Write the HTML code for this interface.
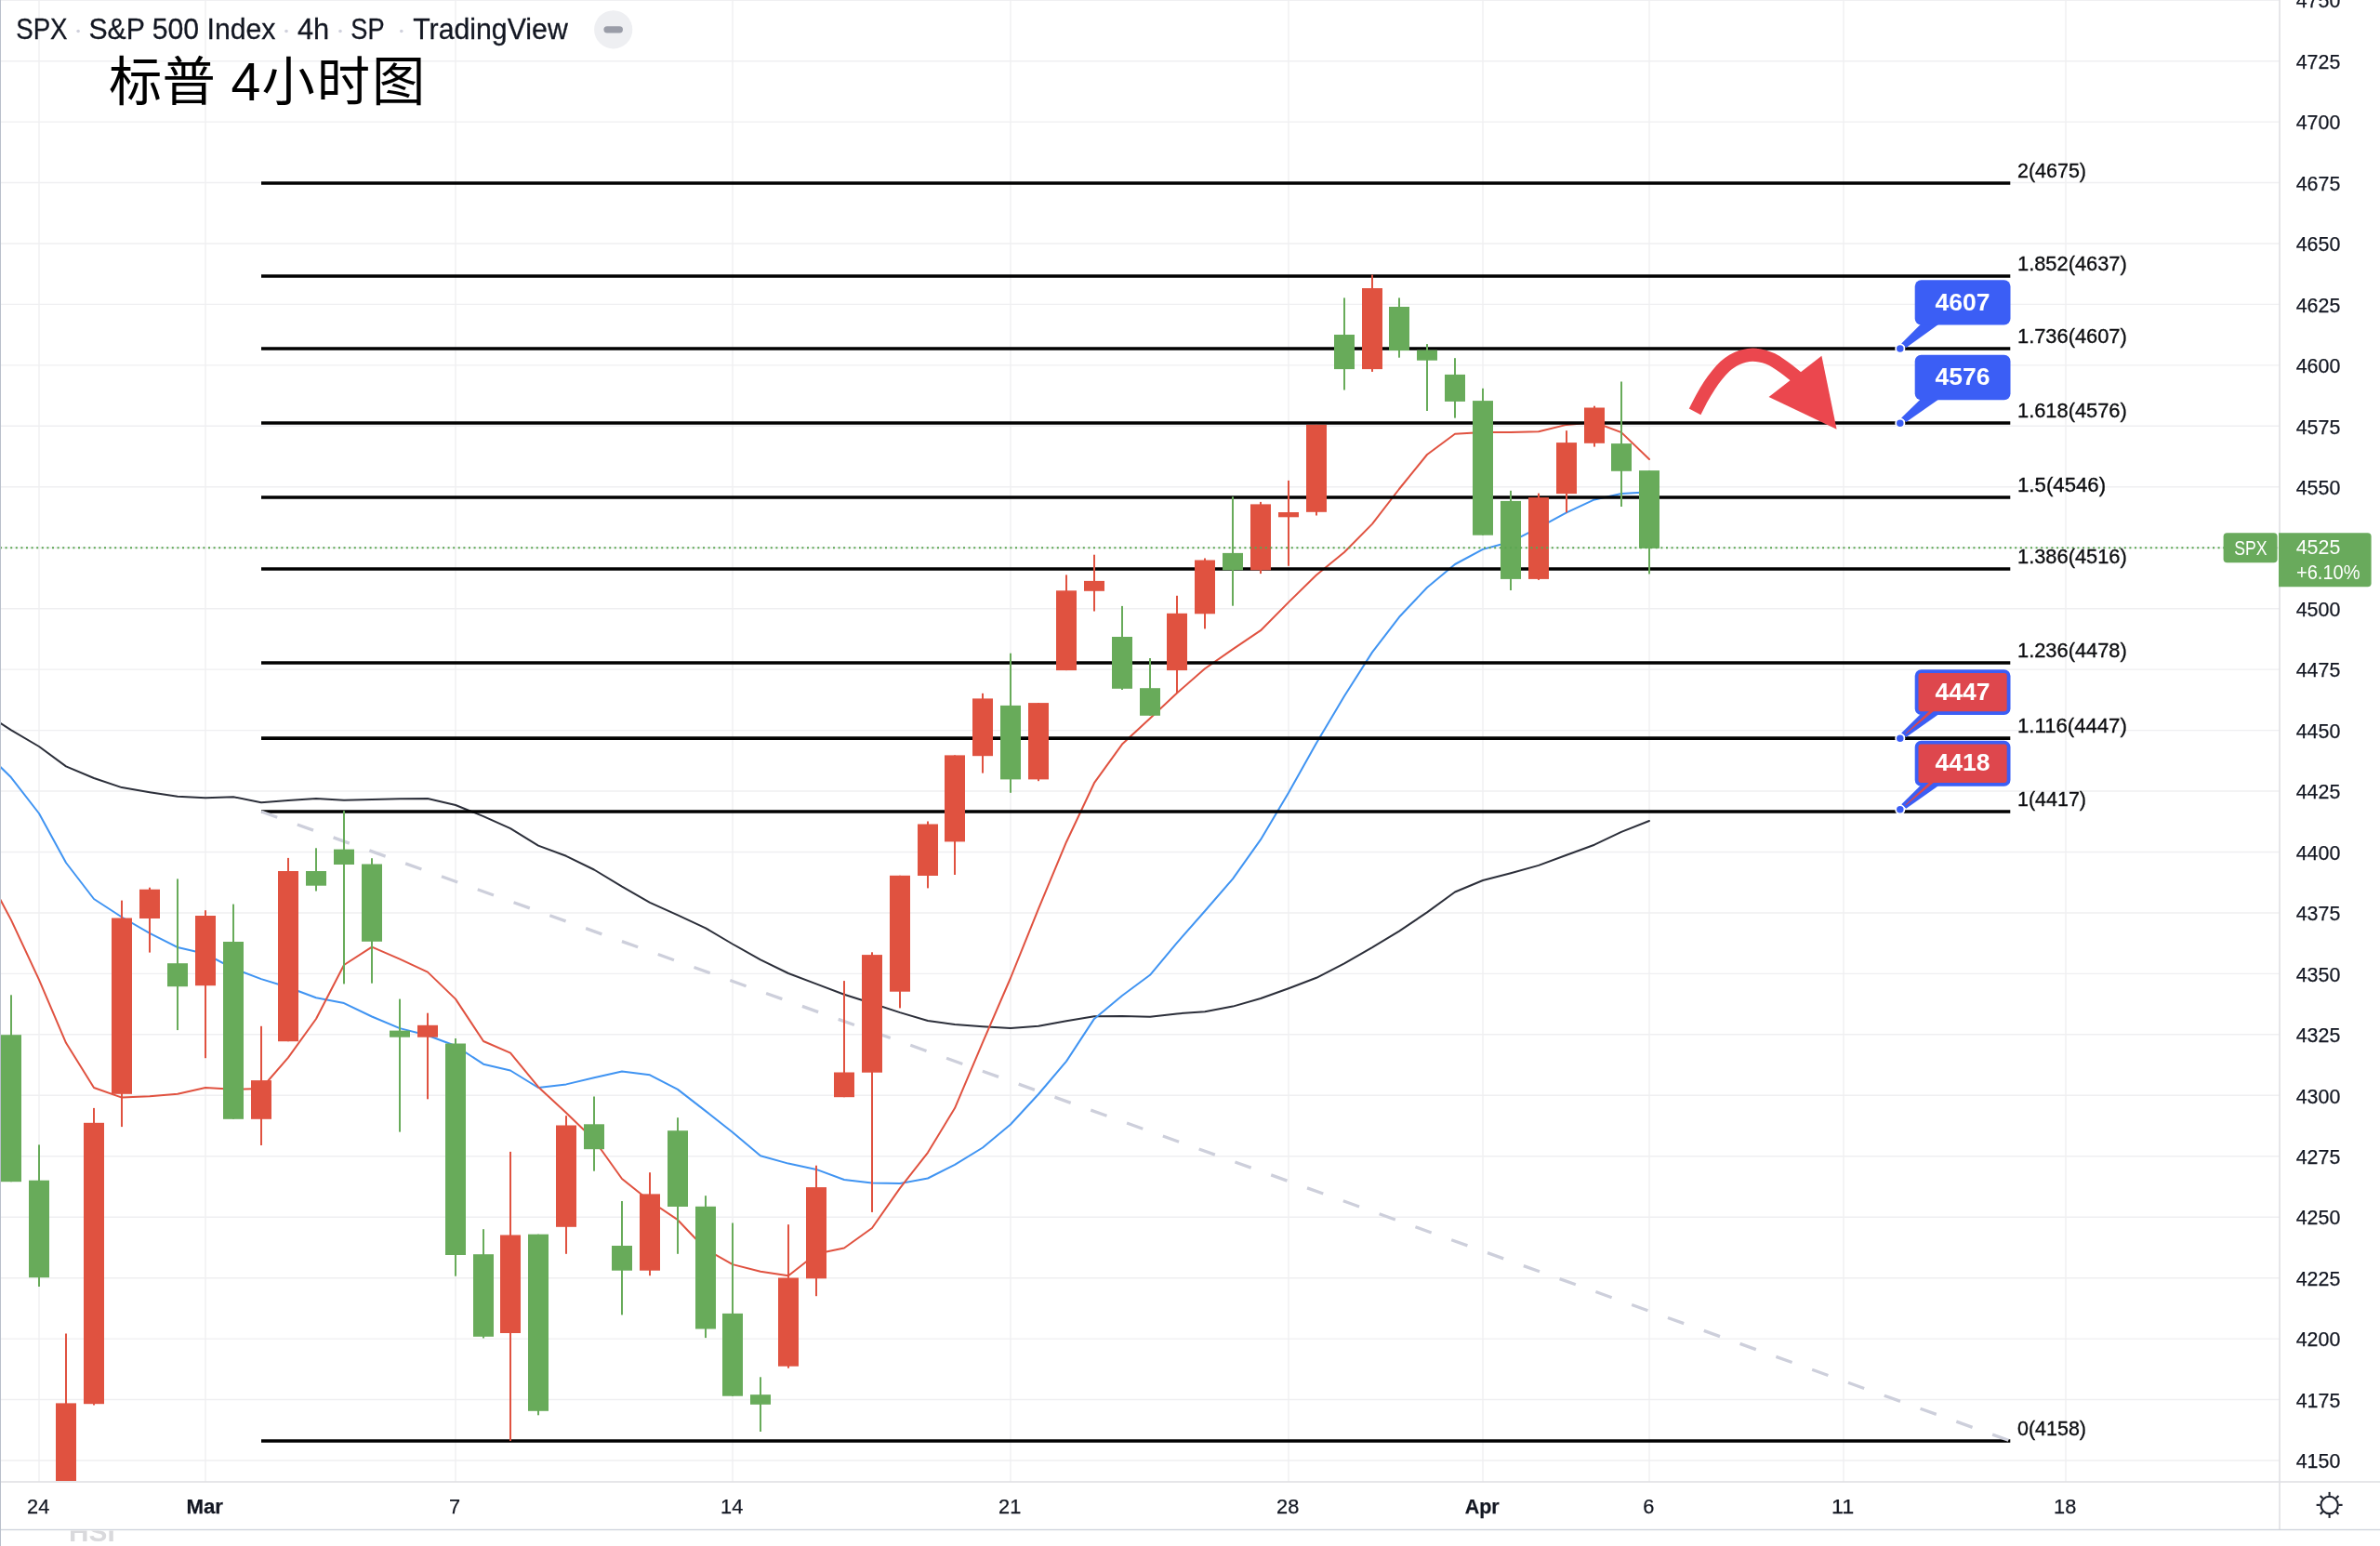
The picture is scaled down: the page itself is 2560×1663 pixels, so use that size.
<!DOCTYPE html>
<html lang="zh"><head><meta charset="utf-8"><title>SPX 4h</title>
<style>html,body{margin:0;padding:0;background:#fff;}body{width:2560px;height:1663px;overflow:hidden;}svg{display:block;will-change:transform;opacity:0.9999;font-family:"Liberation Sans","Noto Sans CJK SC",sans-serif;}.ax{font-size:22.9px;fill:#131722;stroke:#131722;stroke-width:0.25px;}.fb{font-size:22.7px;fill:#0c0d10;stroke:#0c0d10;stroke-width:0.35px;}.b{font-weight:bold;}</style></head><body>
<svg width="2560" height="1663" viewBox="0 0 2560 1663">
<rect width="2560" height="1663" fill="#fff"/>
<g stroke="#efeff1" stroke-width="1.4">
<line x1="42" y1="0" x2="42" y2="1594"/>
<line x1="221" y1="0" x2="221" y2="1594"/>
<line x1="490" y1="0" x2="490" y2="1594"/>
<line x1="788" y1="0" x2="788" y2="1594"/>
<line x1="1087" y1="0" x2="1087" y2="1594"/>
<line x1="1386" y1="0" x2="1386" y2="1594"/>
<line x1="1595" y1="0" x2="1595" y2="1594"/>
<line x1="1774" y1="0" x2="1774" y2="1594"/>
<line x1="1983" y1="0" x2="1983" y2="1594"/>
<line x1="2222" y1="0" x2="2222" y2="1594"/>
<line x1="0" y1="1571.0" x2="2452" y2="1571.0"/>
<line x1="0" y1="1505.5" x2="2452" y2="1505.5"/>
<line x1="0" y1="1440.1" x2="2452" y2="1440.1"/>
<line x1="0" y1="1374.7" x2="2452" y2="1374.7"/>
<line x1="0" y1="1309.2" x2="2452" y2="1309.2"/>
<line x1="0" y1="1243.8" x2="2452" y2="1243.8"/>
<line x1="0" y1="1178.3" x2="2452" y2="1178.3"/>
<line x1="0" y1="1112.8" x2="2452" y2="1112.8"/>
<line x1="0" y1="1047.4" x2="2452" y2="1047.4"/>
<line x1="0" y1="982.0" x2="2452" y2="982.0"/>
<line x1="0" y1="916.5" x2="2452" y2="916.5"/>
<line x1="0" y1="851.0" x2="2452" y2="851.0"/>
<line x1="0" y1="785.6" x2="2452" y2="785.6"/>
<line x1="0" y1="720.1" x2="2452" y2="720.1"/>
<line x1="0" y1="654.7" x2="2452" y2="654.7"/>
<line x1="0" y1="589.2" x2="2452" y2="589.2"/>
<line x1="0" y1="523.8" x2="2452" y2="523.8"/>
<line x1="0" y1="458.3" x2="2452" y2="458.3"/>
<line x1="0" y1="392.9" x2="2452" y2="392.9"/>
<line x1="0" y1="327.4" x2="2452" y2="327.4"/>
<line x1="0" y1="262.0" x2="2452" y2="262.0"/>
<line x1="0" y1="196.5" x2="2452" y2="196.5"/>
<line x1="0" y1="131.1" x2="2452" y2="131.1"/>
<line x1="0" y1="65.7" x2="2452" y2="65.7"/>
<line x1="0" y1="0.2" x2="2452" y2="0.2"/>
</g>
<clipPath id="plot"><rect x="0" y="0" width="2451" height="1593"/></clipPath>
<g clip-path="url(#plot)">
<polyline fill="none" stroke="#2c2f3a" stroke-width="2" stroke-linejoin="round" stroke-linecap="round" points="0,777.5 12,785.4 42,803 71,824.4 101,837 131,847.1 161,852.2 191,856.7 221,858.2 251,857.2 281,863.3 310,861 340,859 370,860.7 400,860 430,859.2 460,859 490,866 520,878.1 549,891.2 579,909.6 609,920.8 639,935.5 669,953.6 699,970.8 729,984.4 759,998.3 788,1015.5 818,1032.4 848,1047 878,1058.4 908,1069.7 938,1079.3 968,1089.1 998,1098 1027,1102 1057,1104.3 1087,1106 1117,1103.8 1147,1098.3 1177,1093.2 1207,1092.9 1237,1093.7 1266,1090.4 1296,1088.2 1326,1082.6 1356,1074 1386,1063.2 1416,1051.8 1446,1036.3 1476,1019.1 1505,1001.6 1535,981.4 1565,959.5 1595,947 1625,939.2 1655,930.9 1685,919.8 1715,908.7 1744,894.9 1774,883"/>
<polyline fill="none" stroke="#4094f2" stroke-width="2" stroke-linejoin="round" stroke-linecap="round" points="0,824.5 12,836.3 42,875 71,928 101,967 131,986.5 161,1003.9 191,1019 221,1026 251,1041.8 281,1053.1 310,1062 340,1073.3 370,1079.1 400,1093.5 430,1106.1 460,1113.7 490,1125 520,1144.7 549,1151.5 579,1170 609,1166.4 639,1159.3 669,1152.5 699,1156.3 729,1171.9 759,1195.1 788,1218 818,1243.3 848,1251.6 878,1257.9 908,1269 938,1272.6 968,1273.1 998,1267.5 1027,1252.9 1057,1234.5 1087,1209.5 1117,1177 1147,1141.6 1177,1095.9 1207,1071 1237,1048.8 1266,1014.1 1296,980 1326,945.3 1356,903.2 1386,852.7 1416,799.3 1446,748.8 1476,701.6 1505,663.8 1535,632 1565,607 1595,590.9 1625,582.8 1655,567.7 1685,551.3 1715,537.4 1744,531.1 1774,529.3"/>
<polyline fill="none" stroke="#e05240" stroke-width="2" stroke-linejoin="round" stroke-linecap="round" points="0,967 12,989.6 42,1053.8 71,1121.8 101,1170 131,1180.6 161,1179.3 191,1176.8 221,1170 251,1171.7 281,1171 310,1137.7 340,1096 370,1038 400,1018.6 430,1031.7 460,1045.6 490,1074.6 520,1120 549,1132.6 579,1169.2 609,1197.1 639,1226 669,1268 699,1292 729,1312.2 759,1343.7 788,1360.1 818,1367.7 848,1372.2 878,1348.8 908,1342.5 938,1321 968,1278.1 998,1239.8 1027,1192.1 1057,1121.4 1087,1052 1117,977.6 1147,905.7 1177,842.2 1207,800.6 1237,772.8 1266,745.5 1296,719.3 1326,698.4 1356,678.2 1386,647.9 1416,618.5 1446,594 1476,563.6 1505,526 1535,489 1565,466.7 1595,465 1625,465 1655,464.3 1685,456.9 1715,454.2 1744,465.1 1774,494"/>
<g stroke="#000" stroke-width="3.7">
<line x1="281" y1="197" x2="2162.3" y2="197"/>
<line x1="281" y1="297" x2="2162.3" y2="297"/>
<line x1="281" y1="375" x2="2162.3" y2="375"/>
<line x1="281" y1="455" x2="2162.3" y2="455"/>
<line x1="281" y1="535" x2="2162.3" y2="535"/>
<line x1="281" y1="612" x2="2162.3" y2="612"/>
<line x1="281" y1="713" x2="2162.3" y2="713"/>
<line x1="281" y1="794.2" x2="2162.3" y2="794.2"/>
<line x1="281" y1="873" x2="2162.3" y2="873"/>
<line x1="281" y1="1550" x2="2162.3" y2="1550"/>
</g>
<line x1="281" y1="873.0" x2="2162.3" y2="1550.0" stroke="#cdcfdb" stroke-width="3.3" stroke-dasharray="18.3 22.93"/>
<rect x="11" y="1070.3" width="2" height="200.9" fill="#68ab5a"/>
<rect x="1" y="1113.2" width="22" height="158.0" fill="#68ab5a"/>
<rect x="41" y="1231.4" width="2" height="152.6" fill="#68ab5a"/>
<rect x="31" y="1269.7" width="22" height="104.5" fill="#68ab5a"/>
<rect x="70" y="1434.5" width="2" height="165.5" fill="#e05240"/>
<rect x="60" y="1509.4" width="22" height="90.6" fill="#e05240"/>
<rect x="100" y="1191.9" width="2" height="319.6" fill="#e05240"/>
<rect x="90" y="1207.8" width="22" height="302.4" fill="#e05240"/>
<rect x="130" y="968.6" width="2" height="243.5" fill="#e05240"/>
<rect x="120" y="987.5" width="22" height="189.3" fill="#e05240"/>
<rect x="160" y="954.7" width="2" height="69.9" fill="#e05240"/>
<rect x="150" y="956.7" width="22" height="31.3" fill="#e05240"/>
<rect x="190" y="945.4" width="2" height="162.7" fill="#68ab5a"/>
<rect x="180" y="1036.2" width="22" height="25.0" fill="#68ab5a"/>
<rect x="220" y="979.2" width="2" height="159.0" fill="#e05240"/>
<rect x="210" y="985.0" width="22" height="75.2" fill="#e05240"/>
<rect x="250" y="972.6" width="2" height="231.2" fill="#68ab5a"/>
<rect x="240" y="1013.0" width="22" height="190.8" fill="#68ab5a"/>
<rect x="280" y="1103.8" width="2" height="128.2" fill="#e05240"/>
<rect x="270" y="1162.1" width="22" height="41.7" fill="#e05240"/>
<rect x="309" y="922.9" width="2" height="197.3" fill="#e05240"/>
<rect x="299" y="937.0" width="22" height="183.2" fill="#e05240"/>
<rect x="339" y="912.3" width="2" height="46.2" fill="#68ab5a"/>
<rect x="329" y="937.0" width="22" height="15.7" fill="#68ab5a"/>
<rect x="369" y="872.2" width="2" height="186.2" fill="#68ab5a"/>
<rect x="359" y="913.6" width="22" height="16.4" fill="#68ab5a"/>
<rect x="399" y="923.2" width="2" height="134.5" fill="#68ab5a"/>
<rect x="389" y="929.5" width="22" height="83.3" fill="#68ab5a"/>
<rect x="429" y="1074.6" width="2" height="143.0" fill="#68ab5a"/>
<rect x="419" y="1108.6" width="22" height="7.1" fill="#68ab5a"/>
<rect x="459" y="1089.7" width="2" height="92.6" fill="#e05240"/>
<rect x="449" y="1102.8" width="22" height="12.9" fill="#e05240"/>
<rect x="489" y="1117.0" width="2" height="255.7" fill="#68ab5a"/>
<rect x="479" y="1122.5" width="22" height="227.5" fill="#68ab5a"/>
<rect x="519" y="1322.2" width="2" height="117.3" fill="#68ab5a"/>
<rect x="509" y="1349.2" width="22" height="88.6" fill="#68ab5a"/>
<rect x="548" y="1238.9" width="2" height="311.1" fill="#e05240"/>
<rect x="538" y="1328.5" width="22" height="105.5" fill="#e05240"/>
<rect x="578" y="1327.7" width="2" height="194.6" fill="#68ab5a"/>
<rect x="568" y="1327.7" width="22" height="190.1" fill="#68ab5a"/>
<rect x="608" y="1200.2" width="2" height="148.6" fill="#e05240"/>
<rect x="598" y="1210.5" width="22" height="109.3" fill="#e05240"/>
<rect x="638" y="1179.5" width="2" height="80.2" fill="#68ab5a"/>
<rect x="628" y="1209.3" width="22" height="26.9" fill="#68ab5a"/>
<rect x="668" y="1292.0" width="2" height="122.4" fill="#68ab5a"/>
<rect x="658" y="1340.0" width="22" height="26.7" fill="#68ab5a"/>
<rect x="698" y="1261.2" width="2" height="111.0" fill="#e05240"/>
<rect x="688" y="1284.4" width="22" height="82.3" fill="#e05240"/>
<rect x="728" y="1202.2" width="2" height="146.6" fill="#68ab5a"/>
<rect x="718" y="1216.2" width="22" height="81.8" fill="#68ab5a"/>
<rect x="758" y="1286.2" width="2" height="152.9" fill="#68ab5a"/>
<rect x="748" y="1297.8" width="22" height="131.7" fill="#68ab5a"/>
<rect x="787" y="1315.5" width="2" height="186.2" fill="#68ab5a"/>
<rect x="777" y="1412.9" width="22" height="88.8" fill="#68ab5a"/>
<rect x="817" y="1481.3" width="2" height="58.7" fill="#68ab5a"/>
<rect x="807" y="1500.2" width="22" height="10.6" fill="#68ab5a"/>
<rect x="847" y="1317.2" width="2" height="154.5" fill="#e05240"/>
<rect x="837" y="1374.5" width="22" height="95.2" fill="#e05240"/>
<rect x="877" y="1253.7" width="2" height="140.5" fill="#e05240"/>
<rect x="867" y="1277.1" width="22" height="98.2" fill="#e05240"/>
<rect x="907" y="1055.1" width="2" height="125.1" fill="#e05240"/>
<rect x="897" y="1153.5" width="22" height="26.7" fill="#e05240"/>
<rect x="937" y="1024.3" width="2" height="279.6" fill="#e05240"/>
<rect x="927" y="1027.1" width="22" height="126.6" fill="#e05240"/>
<rect x="967" y="941.8" width="2" height="142.6" fill="#e05240"/>
<rect x="957" y="941.8" width="22" height="124.9" fill="#e05240"/>
<rect x="997" y="883.5" width="2" height="71.9" fill="#e05240"/>
<rect x="987" y="886.5" width="22" height="55.5" fill="#e05240"/>
<rect x="1026" y="812.4" width="2" height="128.6" fill="#e05240"/>
<rect x="1016" y="812.4" width="22" height="93.0" fill="#e05240"/>
<rect x="1056" y="745.8" width="2" height="85.8" fill="#e05240"/>
<rect x="1046" y="751.4" width="22" height="61.8" fill="#e05240"/>
<rect x="1086" y="702.7" width="2" height="150.1" fill="#68ab5a"/>
<rect x="1076" y="758.9" width="22" height="79.5" fill="#68ab5a"/>
<rect x="1116" y="756.1" width="2" height="84.1" fill="#e05240"/>
<rect x="1106" y="756.1" width="22" height="82.3" fill="#e05240"/>
<rect x="1146" y="618.4" width="2" height="102.7" fill="#e05240"/>
<rect x="1136" y="635.3" width="22" height="85.8" fill="#e05240"/>
<rect x="1176" y="596.7" width="2" height="60.8" fill="#e05240"/>
<rect x="1166" y="624.9" width="22" height="10.9" fill="#e05240"/>
<rect x="1206" y="651.9" width="2" height="90.1" fill="#68ab5a"/>
<rect x="1196" y="685.0" width="22" height="55.8" fill="#68ab5a"/>
<rect x="1236" y="708.0" width="2" height="61.8" fill="#68ab5a"/>
<rect x="1226" y="740.2" width="22" height="29.6" fill="#68ab5a"/>
<rect x="1265" y="640.8" width="2" height="105.0" fill="#e05240"/>
<rect x="1255" y="659.8" width="22" height="61.3" fill="#e05240"/>
<rect x="1295" y="600.5" width="2" height="75.9" fill="#e05240"/>
<rect x="1285" y="602.5" width="22" height="57.8" fill="#e05240"/>
<rect x="1325" y="534.3" width="2" height="117.4" fill="#68ab5a"/>
<rect x="1315" y="594.9" width="22" height="18.4" fill="#68ab5a"/>
<rect x="1355" y="539.9" width="2" height="77.2" fill="#e05240"/>
<rect x="1345" y="542.4" width="22" height="70.9" fill="#e05240"/>
<rect x="1385" y="516.9" width="2" height="91.9" fill="#e05240"/>
<rect x="1375" y="551.0" width="22" height="5.3" fill="#e05240"/>
<rect x="1415" y="456.9" width="2" height="97.6" fill="#e05240"/>
<rect x="1405" y="456.9" width="22" height="93.9" fill="#e05240"/>
<rect x="1445" y="320.4" width="2" height="99.1" fill="#68ab5a"/>
<rect x="1435" y="360.0" width="22" height="37.1" fill="#68ab5a"/>
<rect x="1475" y="295.6" width="2" height="104.3" fill="#e05240"/>
<rect x="1465" y="310.0" width="22" height="87.1" fill="#e05240"/>
<rect x="1504" y="320.4" width="2" height="64.3" fill="#68ab5a"/>
<rect x="1494" y="330.0" width="22" height="47.1" fill="#68ab5a"/>
<rect x="1534" y="370.1" width="2" height="71.9" fill="#68ab5a"/>
<rect x="1524" y="376.6" width="22" height="11.1" fill="#68ab5a"/>
<rect x="1564" y="385.2" width="2" height="64.4" fill="#68ab5a"/>
<rect x="1554" y="402.9" width="22" height="29.0" fill="#68ab5a"/>
<rect x="1594" y="417.8" width="2" height="157.9" fill="#68ab5a"/>
<rect x="1584" y="431.1" width="22" height="144.6" fill="#68ab5a"/>
<rect x="1624" y="527.8" width="2" height="107.2" fill="#68ab5a"/>
<rect x="1614" y="538.9" width="22" height="84.0" fill="#68ab5a"/>
<rect x="1654" y="530.6" width="2" height="93.3" fill="#e05240"/>
<rect x="1644" y="535.1" width="22" height="87.8" fill="#e05240"/>
<rect x="1684" y="463.2" width="2" height="88.1" fill="#e05240"/>
<rect x="1674" y="476.1" width="22" height="55.0" fill="#e05240"/>
<rect x="1714" y="436.7" width="2" height="43.9" fill="#e05240"/>
<rect x="1704" y="438.5" width="22" height="38.3" fill="#e05240"/>
<rect x="1743" y="410.5" width="2" height="134.5" fill="#68ab5a"/>
<rect x="1733" y="477.1" width="22" height="29.7" fill="#68ab5a"/>
<rect x="1773" y="506.1" width="2" height="111.3" fill="#68ab5a"/>
<rect x="1763" y="506.1" width="22" height="83.8" fill="#68ab5a"/>
<line x1="0" y1="589.2" x2="2452" y2="589.2" stroke="#5ba652" stroke-width="2" stroke-dasharray="2 3.6"/>
<path d="M1823.1,442.9 C1824.4,440.4 1828.1,432.8 1830.7,428.1 C1833.3,423.4 1836.0,418.8 1838.7,414.7 C1841.4,410.6 1844.3,406.7 1847.1,403.3 C1849.9,399.9 1852.7,396.7 1855.5,394.1 C1858.3,391.5 1861.1,389.6 1863.9,387.9 C1866.7,386.2 1869.5,385.0 1872.3,384.0 C1875.1,383.0 1877.9,382.4 1880.7,382.0 C1883.5,381.6 1886.4,381.6 1889.2,381.9 C1892.0,382.1 1894.8,382.7 1897.6,383.5 C1900.4,384.3 1903.2,385.3 1906.0,386.7 C1908.8,388.1 1911.6,389.9 1914.4,391.8 C1917.2,393.7 1920.1,395.7 1922.8,397.8 C1925.5,399.9 1928.6,402.4 1930.8,404.2 C1933.0,406.0 1935.1,407.9 1936.0,408.6" fill="none" stroke="#eb474e" stroke-width="14.3"/>
<polygon points="1959.4,382.7 1902.6,426.9 1975.6,461.8" fill="#eb474e"/>
</g>
<text class="fb" x="2170" y="190.8" textLength="74.0" lengthAdjust="spacingAndGlyphs">2(4675)</text>
<text class="fb" x="2170" y="290.8" textLength="117.8" lengthAdjust="spacingAndGlyphs">1.852(4637)</text>
<text class="fb" x="2170" y="368.8" textLength="117.8" lengthAdjust="spacingAndGlyphs">1.736(4607)</text>
<text class="fb" x="2170" y="448.8" textLength="117.8" lengthAdjust="spacingAndGlyphs">1.618(4576)</text>
<text class="fb" x="2170" y="528.8" textLength="95.1" lengthAdjust="spacingAndGlyphs">1.5(4546)</text>
<text class="fb" x="2170" y="605.8" textLength="117.8" lengthAdjust="spacingAndGlyphs">1.386(4516)</text>
<text class="fb" x="2170" y="706.8" textLength="117.8" lengthAdjust="spacingAndGlyphs">1.236(4478)</text>
<text class="fb" x="2170" y="788.0" textLength="117.8" lengthAdjust="spacingAndGlyphs">1.116(4447)</text>
<text class="fb" x="2170" y="866.8" textLength="74.0" lengthAdjust="spacingAndGlyphs">1(4417)</text>
<text class="fb" x="2170" y="1543.8" textLength="74.0" lengthAdjust="spacingAndGlyphs">0(4158)</text>
<polygon points="2068.5,346.3 2086,348.40000000000003 2084.3,349.6 2050.3,373.9 2045.2,369.4 2065.2,349.40000000000003" fill="#3b5ef5"/>
<rect x="2059.7" y="301.3" width="102.8" height="48.3" rx="6.8" fill="#3b5ef5"/>
<circle cx="2043.8" cy="375.0" r="4.65" fill="#3b5ef5" stroke="#fff" stroke-width="1.8"/>
<text x="2111.1" y="333.5" text-anchor="middle" font-size="26.5" font-weight="bold" fill="#fff">4607</text>
<polygon points="2068.5,426.9 2086,429.0 2084.3,430.2 2050.3,454.09999999999997 2045.2,449.59999999999997 2065.2,430.0" fill="#3b5ef5"/>
<rect x="2059.7" y="381.8" width="102.8" height="48.4" rx="6.8" fill="#3b5ef5"/>
<circle cx="2043.8" cy="455.2" r="4.65" fill="#3b5ef5" stroke="#fff" stroke-width="1.8"/>
<text x="2111.1" y="414.0" text-anchor="middle" font-size="26.5" font-weight="bold" fill="#fff">4576</text>
<polygon points="2068.5,765.7 2086,767.8 2084.3,769.0 2050.3,793.1 2045.2,788.6 2065.2,768.8" fill="#3b5ef5"/>
<rect x="2061.6" y="722.1999999999999" width="99.0" height="44.9" rx="4.9" fill="#de474d" stroke="#3b5ef5" stroke-width="3.8"/>
<polygon points="2075.5,764.5 2080.5,764.5 2050.2,789.6 2049.4,789.2" fill="#de474d"/>
<circle cx="2043.8" cy="794.2" r="4.65" fill="#3b5ef5" stroke="#fff" stroke-width="1.8"/>
<text x="2111.1" y="752.6" text-anchor="middle" font-size="26.5" font-weight="bold" fill="#fff">4447</text>
<polygon points="2068.5,842.4000000000001 2086,844.5 2084.3,845.7 2050.3,869.6999999999999 2045.2,865.1999999999999 2065.2,845.5" fill="#3b5ef5"/>
<rect x="2061.6" y="798.6999999999999" width="99.0" height="45.1" rx="4.9" fill="#de474d" stroke="#3b5ef5" stroke-width="3.8"/>
<polygon points="2075.5,841.2 2080.5,841.2 2050.2,866.1999999999999 2049.4,865.8" fill="#de474d"/>
<circle cx="2043.8" cy="870.8" r="4.65" fill="#3b5ef5" stroke="#fff" stroke-width="1.8"/>
<text x="2111.1" y="829.2" text-anchor="middle" font-size="26.5" font-weight="bold" fill="#fff">4418</text>
<rect x="2453" y="0" width="107" height="1645.5" fill="#fff"/>
<rect x="0" y="1595" width="2560" height="68" fill="#fff"/>
<rect x="2451.2" y="0" width="1.6" height="1645.5" fill="#e0e0e4"/>
<rect x="0" y="1593.2" width="2560" height="1.6" fill="#e0e0e4"/>
<rect x="0" y="1644.8" width="2560" height="1.4" fill="#d0d5dd"/>
<rect x="0" y="0" width="1" height="1663" fill="#b9c0cb"/>
<text class="ax" x="2469.7" y="1579.2" textLength="47.6" lengthAdjust="spacingAndGlyphs">4150</text>
<text class="ax" x="2469.7" y="1513.8" textLength="47.6" lengthAdjust="spacingAndGlyphs">4175</text>
<text class="ax" x="2469.7" y="1448.3" textLength="47.6" lengthAdjust="spacingAndGlyphs">4200</text>
<text class="ax" x="2469.7" y="1382.9" textLength="47.6" lengthAdjust="spacingAndGlyphs">4225</text>
<text class="ax" x="2469.7" y="1317.4" textLength="47.6" lengthAdjust="spacingAndGlyphs">4250</text>
<text class="ax" x="2469.7" y="1252.0" textLength="47.6" lengthAdjust="spacingAndGlyphs">4275</text>
<text class="ax" x="2469.7" y="1186.5" textLength="47.6" lengthAdjust="spacingAndGlyphs">4300</text>
<text class="ax" x="2469.7" y="1121.0" textLength="47.6" lengthAdjust="spacingAndGlyphs">4325</text>
<text class="ax" x="2469.7" y="1055.6" textLength="47.6" lengthAdjust="spacingAndGlyphs">4350</text>
<text class="ax" x="2469.7" y="990.2" textLength="47.6" lengthAdjust="spacingAndGlyphs">4375</text>
<text class="ax" x="2469.7" y="924.7" textLength="47.6" lengthAdjust="spacingAndGlyphs">4400</text>
<text class="ax" x="2469.7" y="859.2" textLength="47.6" lengthAdjust="spacingAndGlyphs">4425</text>
<text class="ax" x="2469.7" y="793.8" textLength="47.6" lengthAdjust="spacingAndGlyphs">4450</text>
<text class="ax" x="2469.7" y="728.4" textLength="47.6" lengthAdjust="spacingAndGlyphs">4475</text>
<text class="ax" x="2469.7" y="662.9" textLength="47.6" lengthAdjust="spacingAndGlyphs">4500</text>
<text class="ax" x="2469.7" y="597.5" textLength="47.6" lengthAdjust="spacingAndGlyphs">4525</text>
<text class="ax" x="2469.7" y="532.0" textLength="47.6" lengthAdjust="spacingAndGlyphs">4550</text>
<text class="ax" x="2469.7" y="466.5" textLength="47.6" lengthAdjust="spacingAndGlyphs">4575</text>
<text class="ax" x="2469.7" y="401.1" textLength="47.6" lengthAdjust="spacingAndGlyphs">4600</text>
<text class="ax" x="2469.7" y="335.6" textLength="47.6" lengthAdjust="spacingAndGlyphs">4625</text>
<text class="ax" x="2469.7" y="270.2" textLength="47.6" lengthAdjust="spacingAndGlyphs">4650</text>
<text class="ax" x="2469.7" y="204.7" textLength="47.6" lengthAdjust="spacingAndGlyphs">4675</text>
<text class="ax" x="2469.7" y="139.3" textLength="47.6" lengthAdjust="spacingAndGlyphs">4700</text>
<text class="ax" x="2469.7" y="73.9" textLength="47.6" lengthAdjust="spacingAndGlyphs">4725</text>
<text class="ax" x="2469.7" y="8.4" textLength="47.6" lengthAdjust="spacingAndGlyphs">4750</text>
<rect x="2391.6" y="573.3" width="58" height="32" rx="4" fill="#69aa5c"/>
<text x="2403.2" y="597.3" font-size="22.5" fill="#fff" textLength="35.4" lengthAdjust="spacingAndGlyphs">SPX</text>
<path d="M2451,573.3 H2546.6 a4,4 0 0 1 4,4 V627.3 a4,4 0 0 1 -4,4 H2451 Z" fill="#69aa5c"/>
<text x="2469.7" y="596.3" font-size="22.9" fill="#fff" textLength="47.6" lengthAdjust="spacingAndGlyphs">4525</text>
<text x="2470" y="622.8" font-size="22.9" fill="#fff" textLength="68.6" lengthAdjust="spacingAndGlyphs">+6.10%</text>
<text class="ax" x="29.1" y="1628.2" textLength="24.2" lengthAdjust="spacingAndGlyphs">24</text>
<text class="ax b" x="200.4" y="1628.2" textLength="39.6" lengthAdjust="spacingAndGlyphs">Mar</text>
<text class="ax" x="483.1" y="1628.2" textLength="12.1" lengthAdjust="spacingAndGlyphs">7</text>
<text class="ax" x="775.1" y="1628.2" textLength="24.2" lengthAdjust="spacingAndGlyphs">14</text>
<text class="ax" x="1074.1" y="1628.2" textLength="24.2" lengthAdjust="spacingAndGlyphs">21</text>
<text class="ax" x="1373.1" y="1628.2" textLength="24.2" lengthAdjust="spacingAndGlyphs">28</text>
<text class="ax b" x="1575.7" y="1628.2" textLength="37.0" lengthAdjust="spacingAndGlyphs">Apr</text>
<text class="ax" x="1767.2" y="1628.2" textLength="12.1" lengthAdjust="spacingAndGlyphs">6</text>
<text class="ax" x="1970.1" y="1628.2" textLength="24.2" lengthAdjust="spacingAndGlyphs">11</text>
<text class="ax" x="2209.1" y="1628.2" textLength="24.2" lengthAdjust="spacingAndGlyphs">18</text>
<g stroke="#1e222d" stroke-width="2.1" fill="none">
<circle cx="2505.6" cy="1618.9" r="9.2"/>
<line x1="2515.60" y1="1618.90" x2="2519.60" y2="1618.90"/>
<line x1="2512.67" y1="1625.97" x2="2515.50" y2="1628.80"/>
<line x1="2505.60" y1="1628.90" x2="2505.60" y2="1632.90"/>
<line x1="2498.53" y1="1625.97" x2="2495.70" y2="1628.80"/>
<line x1="2495.60" y1="1618.90" x2="2491.60" y2="1618.90"/>
<line x1="2498.53" y1="1611.83" x2="2495.70" y2="1609.00"/>
<line x1="2505.60" y1="1608.90" x2="2505.60" y2="1604.90"/>
<line x1="2512.67" y1="1611.83" x2="2515.50" y2="1609.00"/>
</g>
<clipPath id="hsi"><rect x="0" y="1646.5" width="400" height="20"/></clipPath>
<text x="74.1" y="1657.8" font-size="30" font-weight="bold" fill="#d9d9dc" clip-path="url(#hsi)" textLength="49.6" lengthAdjust="spacingAndGlyphs">HSI</text>
<g font-size="31.8" fill="#131722" stroke="#131722" stroke-width="0.3">
<text x="17.2" y="42.1" textLength="55.4" lengthAdjust="spacingAndGlyphs">SPX</text>
<text x="95.4" y="42.1" textLength="201.1" lengthAdjust="spacingAndGlyphs">S&amp;P 500 Index</text>
<text x="319.9" y="42.1" textLength="34.2" lengthAdjust="spacingAndGlyphs">4h</text>
<text x="377.3" y="42.1" textLength="36.3" lengthAdjust="spacingAndGlyphs">SP</text>
<text x="444.2" y="42.1" textLength="166.6" lengthAdjust="spacingAndGlyphs">TradingView</text>
</g>
<g fill="#d0d1dc">
<circle cx="84.1" cy="33.5" r="1.8"/>
<circle cx="308" cy="33.5" r="1.8"/>
<circle cx="366" cy="33.5" r="1.8"/>
<circle cx="431.8" cy="33.5" r="1.8"/>
</g>
<circle cx="659.7" cy="31.8" r="20.6" fill="#eeeff2"/>
<rect x="649.4" y="28.2" width="20.6" height="7.2" rx="3.6" fill="#9a9da8"/>
<g font-size="57.3" fill="#000">
<text x="117.1" y="108.4">标普</text>
<text x="248.6" y="108.4">4</text>
<text x="281.6" y="108.4" letter-spacing="1.9">小时图</text>
</g>
</svg></body></html>
